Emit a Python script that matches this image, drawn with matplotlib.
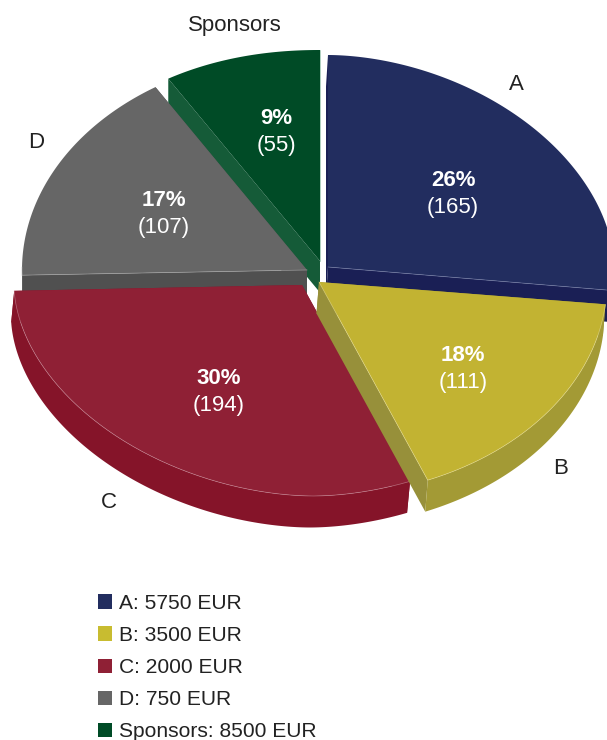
import numpy as np
import matplotlib
matplotlib.use("Agg")
import matplotlib.pyplot as plt
from matplotlib.patches import Polygon, Patch

plt.rcParams['font.family'] = ['Liberation Sans', 'DejaVu Sans']

# data
categories = ['A', 'B', 'C', 'D', 'Sponsors']
counts = [165, 111, 194, 107, 55]
percents = [26, 18, 30, 17, 9]
prices = [5750, 3500, 2000, 750, 8500]

# style / layout
top_colors = ['#222d5f', '#c2b332', '#8f2035', '#666666', '#004b26']
side_colors = ['#1a1f55', '#a39a35', '#851429', '#505050', '#155b38']
cut_colors = ['#1a1f55', '#97903a', '#851429', '#505050', '#155b38']
edge_colors = ['#7f88b0', '#e6dc90', '#c88a98', '#b0b0b0', '#5f9f80']
legend_colors = ['#222d5f', '#c8bc30', '#8f2035', '#666666', '#004b26']
apex = [(328, 267), (319, 282), (302, 285), (307, 270), (320, 261)]
arc_dx = [0, 0, 11, 0, 0]
radii_x = [286, 288, 299, 285, 286]
radii_y = [212, 214, 211, 216, 211]
shape_n = [1.85, 2.0, 1.85, 2.0, 2.1]
start_nudge = [0, -2, -2.1, -0.9, -0.4]
end_nudge = [-3.5, -0.6, -0.2, 0.8, 0]
radial_edge = [(False, True), (False, True), (False, False), (True, False), (False, True)]
depth_dx = [-2, -2.5, -3, 0, 0]
draw_order = [4, 0, 3, 2, 1]
DEPTH = 31.5
label_pos = [(453, 194), (463, 369.5), (219, 392.5), (164, 215), (276, 133)]
cat_pos = [(516, 85), (561, 468), (109, 502), (36, 143), (235, 26)]

fig = plt.figure(figsize=(6.07, 7.40), dpi=100)
ax = fig.add_axes([0, 0, 1, 1])
ax.set_xlim(0, 607)
ax.set_ylim(740, 0)
ax.axis('off')

fractions = np.array(counts) / sum(counts)
base = 90 - 360 * np.concatenate([[0], np.cumsum(fractions)])


def ring(i, a1, a2, n=160):
    cx, cy = apex[i]
    t = np.radians(np.linspace(a1, a2, n))
    p = 2.0 / shape_n[i]
    c, s = np.cos(t), np.sin(t)
    x = cx + arc_dx[i] + radii_x[i] * np.sign(c) * np.abs(c) ** p
    y = cy - radii_y[i] * np.sign(s) * np.abs(s) ** p
    return np.column_stack([x, y])


for z, i in enumerate(draw_order):
    cx, cy = apex[i]
    a1, a2 = base[i] + start_nudge[i], base[i + 1] + end_nudge[i]
    arc = ring(i, a1, a2)
    down = np.array([depth_dx[i], DEPTH])
    zo = 2 + z
    for end in (arc[0], arc[-1]):
        pts = [(cx, cy), end, end + down, (cx + down[0], cy + DEPTH)]
        ax.add_patch(Polygon(pts, closed=True, fc=cut_colors[i], ec='none', zorder=zo))
    a_vals = np.linspace(a1, a2, 160)
    mask = np.sin(np.radians(a_vals)) <= 0.02
    vis = arc[mask]
    if len(vis) > 1:
        pts = np.vstack([vis, vis[::-1] + down])
        ax.add_patch(Polygon(pts, closed=True, fc=side_colors[i], ec='none', zorder=zo))
    pts = np.vstack([[(cx, cy)], arc])
    ax.add_patch(Polygon(pts, closed=True, fc=top_colors[i], ec='none', zorder=zo))
    if len(vis) > 1:
        ax.plot(vis[:, 0], vis[:, 1], color=edge_colors[i], lw=0.5, alpha=0.7, zorder=zo,
                solid_capstyle='butt')
    for flag, end in zip(radial_edge[i], (arc[0], arc[-1])):
        if flag:
            ax.plot([cx, end[0]], [cy, end[1]], color=edge_colors[i], lw=0.5, alpha=0.7, zorder=zo)

for i in range(len(categories)):
    x, y = label_pos[i]
    ax.text(x, y - 14, f'{percents[i]}%', color='white', fontsize=16, fontweight='bold',
            ha='center', va='center', zorder=20)
    ax.text(x, y + 13, f'({counts[i]})', color='white', fontsize=16,
            ha='center', va='center', zorder=20)
    ax.text(cat_pos[i][0], cat_pos[i][1], categories[i], color='#222222', fontsize=16,
            ha='center', va='center', zorder=20)

handles = [Patch(fc=c, ec='none') for c in legend_colors]
labels = [f'{c}: {p} EUR' for c, p in zip(categories, prices)]
ax.legend(handles, labels, loc='lower left', bbox_to_anchor=(98 / 607, -1 / 740),
          bbox_transform=fig.transFigure, frameon=False, fontsize=15.1, borderpad=0,
          borderaxespad=0, handlelength=0.67, handleheight=0.67, handletextpad=0.35,
          labelspacing=0.62, labelcolor='#222222')

fig.savefig('out.png', dpi=100)
